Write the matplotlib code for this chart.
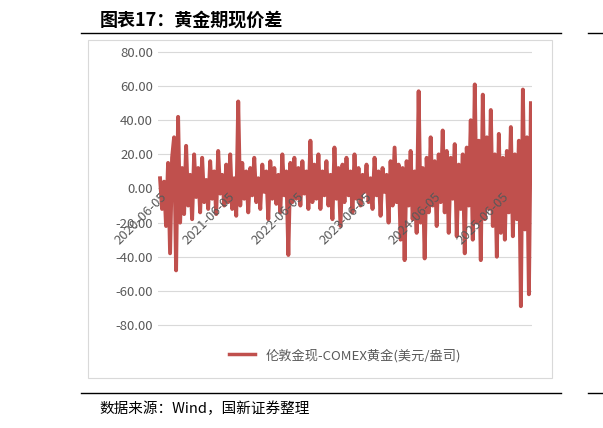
import matplotlib
matplotlib.use("Agg")
import matplotlib.pyplot as plt
import pandas as pd

plt.rcParams['font.family'] = ['Noto Sans CJK SC', 'DejaVu Sans']

start = "2020-06-05"
values = [
 6, -12, 4, -22, 15, -38, 18, 30, -48, 42, -20, 12, -15, 25, -10, 8, -18, 20, -5, 12,
 -14, 18, -8, 5, -12, 16, -6, 10, -15, 22, -3, 8, -10, 14, -8, 20, -12, 6, -16, 51,
 -10, 15, -6, 10, -14, 12, -4, 18, -8, 6, -12, 14, -2, 10, -18, 16, -6, 12, -9, 8,
 -14, 20, -4, 10, -39, 15, -8, 18, -6, 12, -10, 16, -3, 10, -12, 28, -8, 14, -6, 20,
 -12, 10, -4, 16, -10, 8, -18, 24, -6, 12, -22, 14, -8, 18, -4, 10, -14, 20, -6, 12,
 -10, 8, -2, 14, -8, 6, -12, 18, -4, 10, -16, 12, -2, 8, -20, 16, -10, 24, -8, 14,
 -30, 12, -42, 16, -10, 22, -18, 10, -26, 57, -20, 12, -41, 18, -14, 30, -10, 16, -22, 20,
 -8, 34, -14, 22, -26, 18, -6, 26, -28, 14, -12, 20, -38, 24, -10, 40, -30, 61, -20, 28,
 -42, 55, -18, 30, -12, 46, -22, 20, -40, 32, -26, 18, -30, 22, -14, 36, -28, 20, -18, 28,
 -69, 58, -24, 30, -62, 50,
]
dates = pd.date_range(start, "2025-11-05", periods=len(values))
tick_labels = ["2020-06-05", "2021-06-05", "2022-06-05", "2023-06-05", "2024-06-05", "2025-06-05"]
yticks = [80, 60, 40, 20, 0, -20, -40, -60, -80]
series_name = "伦敦金现-COMEX黄金(美元/盎司)"

fig = plt.figure(figsize=(6.03, 4.28), dpi=100)
fig.text(0.165, 0.952, "图表17：黄金期现价差", fontsize=13, fontweight='bold', style='italic', va='center')
fig.add_artist(plt.Line2D([0.135, 0.93], [0.922, 0.922], color='black', lw=1.0))
fig.add_artist(plt.Line2D([0.135, 0.93], [0.082, 0.082], color='black', lw=1.0))
fig.add_artist(plt.Line2D([0.975, 1.0], [0.922, 0.922], color='black', lw=1.0))
fig.add_artist(plt.Line2D([0.975, 1.0], [0.082, 0.082], color='black', lw=1.0))
fig.text(0.165, 0.045, "数据来源：Wind，国新证券整理", fontsize=10.5, va='center')
fig.add_artist(plt.Rectangle((0.146, 0.117), 0.77, 0.79, fill=False, ec='#d9d9d9', lw=0.8))

ax = fig.add_axes([0.262, 0.2208, 0.62, 0.6776])
ax.plot(dates, values, color='#c0504d', lw=2.8)
ax.set_ylim(-85, 85)
ax.set_yticks(yticks)
ax.set_yticklabels([f"{v:.2f}" for v in yticks], color='#595959', fontsize=9.5)
ax.grid(axis='y', color='#d9d9d9', lw=0.8)
ax.set_axisbelow(True)
for s in ax.spines.values():
    s.set_visible(False)
ax.tick_params(length=0)
ax.set_xticks([])
for lab in tick_labels:
    ax.text(pd.Timestamp(lab), -1, lab, rotation=45, ha='right', va='top', fontsize=9.5, color='#595959',
            rotation_mode='anchor')
ax.set_xlim(pd.Timestamp("2020-05-25"), pd.Timestamp("2025-11-10"))
ax.legend([plt.Line2D([], [], color='#c0504d', lw=2.5)], [series_name], loc='center',
          bbox_to_anchor=(0.5, -0.075), frameon=False, fontsize=9.5, labelcolor='#595959')
fig.savefig("out.png", dpi=100)
